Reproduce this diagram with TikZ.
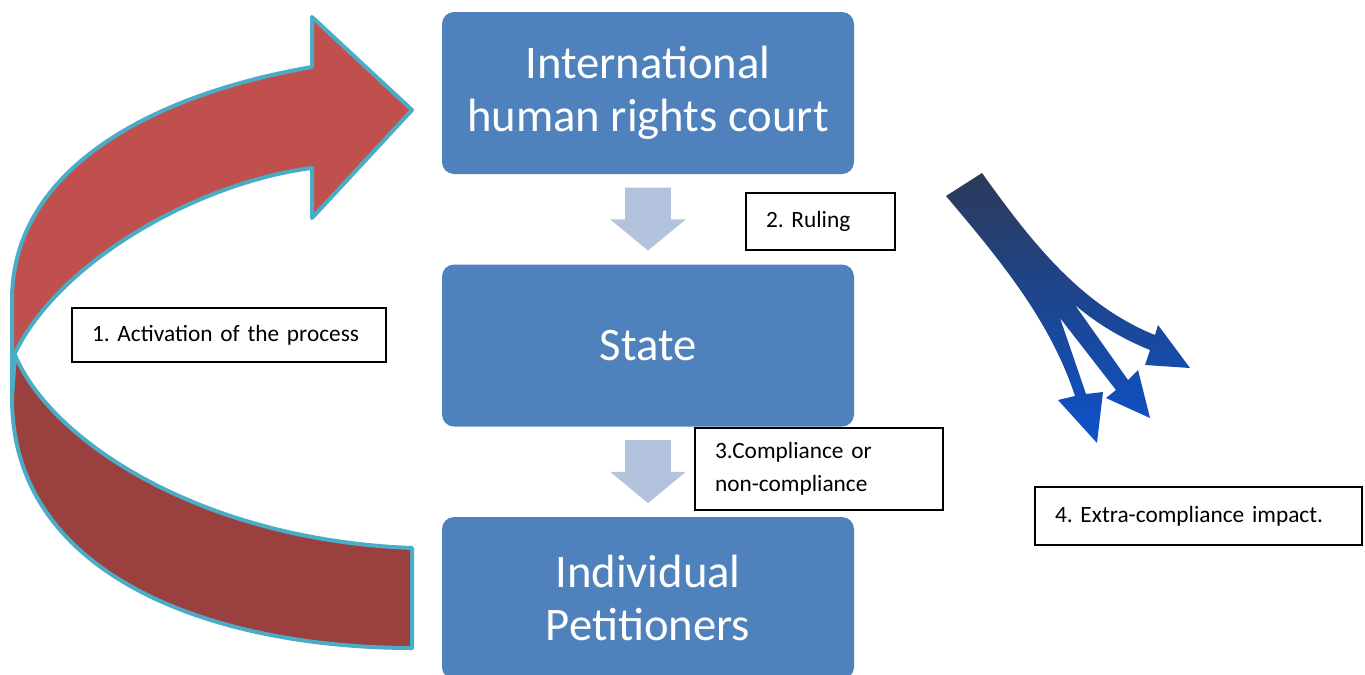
\documentclass[tikz,border=0pt]{standalone}
\usepackage{fontspec}
\setmainfont{Carlito}
\frenchspacing
\usetikzlibrary{positioning, calc, shapes.arrows}

\definecolor{boxblue}{HTML}{4F81BD}
\definecolor{flowblue}{HTML}{B3C3DE}
\definecolor{ribbonlight}{HTML}{C0504D}
\definecolor{ribbondark}{HTML}{9A403E}
\definecolor{ribbonline}{HTML}{4BACC6}
\definecolor{treetop}{HTML}{2C3A58}
\definecolor{treemid}{HTML}{132A55}
\definecolor{treebottom}{HTML}{0D52CC}

\tikzset{
  block/.style={rectangle, rounded corners=9pt, fill=boxblue, text=white,
    minimum width=309pt, minimum height=121.5pt, align=center,
    font=\fontsize{35}{40}\selectfont},
  note/.style={draw, line width=1.1pt, fill=white, align=left, inner xsep=15pt,
    font=\fontsize{17.5}{24.75}\selectfont},
  flowarrow/.style={single arrow, fill=flowblue, inner xsep=0pt, inner ysep=16.875pt, rotate=-90,
    minimum height=47.25pt, minimum width=56.25pt, anchor=tail,
    single arrow head extend=11.25pt, single arrow tip angle=101},
  ribbon/.style={draw=ribbonline, line width=3pt, line join=round},
}

\begin{document}
\begin{tikzpicture}[x=0.75pt, y=-0.75pt, node distance=67.5pt]
    \useasboundingbox (0,0) rectangle (1365,675);

    % the three levels
    \node[block] (court) at (648,93) {International\\human rights court};
    \node[block] (state) [below=of court] {State};
    \node[block] (petitioners) [below=of state] {Individual\\Petitioners};

    % arrows between levels
    \node[flowarrow] (rulingarrow) at ($(court.south)+(0,13)$) {};
    \node[flowarrow] (compliancearrow) at ($(state.south)+(0,13)$) {};

    % curved arrow from petitioners back up to the court
    \path[ribbon, fill=ribbonlight] (312,67) -- (312,17) -- (412,110) -- (312,218) -- (312,168)
        .. controls (200,182) and (60,260) .. (15,353) -- (12,398) -- (12,300)
        .. controls (12,170) and (150,95) .. cycle;
    \path[ribbon, fill=ribbondark] (15,355) .. controls (50,440) and (200,540) .. (412,548)
        -- (412,648) .. controls (220,648) and (12,580) .. (12,398) -- cycle;

    % spreading arrow
    \shade[top color=treetop, middle color=treemid, bottom color=treebottom]
        (946,196) -- (982,173) .. controls (1030,240) and (1080,305) .. (1155,335)
        -- (1158,325) -- (1190,368) -- (1145,365) -- (1150,350)
        .. controls (1120,338) and (1095,322) .. (1075,305)
        -- (1128,380) -- (1138,370) -- (1150,418) -- (1106,398) -- (1116,390)
        -- (1060,318) -- (1086,394) -- (1103,392) -- (1097,443) -- (1058,400) -- (1075,396)
        .. controls (1050,320) and (1000,260) .. (946,196) -- cycle;

    % labels
    \node[note, text width=205.5pt, minimum height=40.5pt] (activation) at (229,335) {1. Activation of the process};
    \node[note, text width=81.75pt, minimum height=42.75pt] (ruling) at (820.5,221.5) {2. Ruling};
    \node[note, text width=156pt, minimum height=61.5pt] (compliance) at (819,469) {3.Compliance or\\non-compliance};
    \node[note, text width=215.25pt, minimum height=43.5pt] (impact) at (1198.5,516) {4. Extra-compliance impact.};
\end{tikzpicture}
\end{document}
